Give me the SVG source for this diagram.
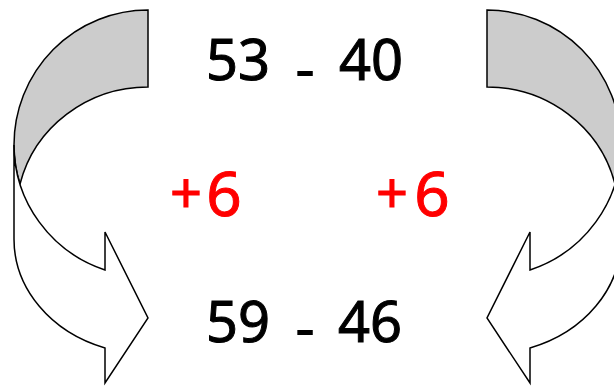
<svg xmlns="http://www.w3.org/2000/svg" width="614" height="386" viewBox="0 0 614 386">
<style>
.back{fill:#cccccc;stroke:#000;stroke-width:1.5;stroke-linejoin:miter}
.front{fill:#ffffff;stroke:#000;stroke-width:1.5;stroke-linejoin:miter}
.num{font-family:"Noto Sans","DejaVu Sans",sans-serif;font-size:56px;fill:#000;stroke:#000;stroke-width:1;text-anchor:middle}
.add{font-family:"Noto Sans","DejaVu Sans",sans-serif;font-size:62px;fill:#ff0000;stroke:#ff0000;stroke-width:1;text-anchor:middle}
.plus{font-size:56px}
.dash{font-size:64px;stroke-width:0}
</style>
<defs>
<g id="curve">
<path class="back" d="M148,10 A134,135 0 0 0 14,145 A134,132 0 0 0 20,184 A132,128 0 0 1 148,87 Z"/>
<path class="front" d="M14,145 A134,132 0 0 0 105,270 L105,232 L148,318 L105,383 L105,348 A134,115 0 0 1 14,239 Z"/>
</g>
</defs>
<g id="connectors">
<g id="arrow-left"><use href="#curve"/></g>
<g id="arrow-right"><use href="#curve" transform="translate(635,0) scale(-1,1)"/></g>
</g>
<g id="top-expr">
<text class="num"><tspan x="238" y="80">53</tspan><tspan class="dash" x="305" y="91">-</tspan><tspan x="371" y="80">40</tspan></text>
</g>
<g id="bottom-expr">
<text class="num"><tspan x="238" y="342">59</tspan><tspan class="dash" x="305" y="350">-</tspan><tspan x="370" y="342">46</tspan></text>
</g>
<g id="left-add">
<text class="add"><tspan class="plus" x="186" y="213">+</tspan><tspan x="224" y="216">6</tspan></text>
</g>
<g id="right-add">
<text class="add"><tspan class="plus" x="392" y="213">+</tspan><tspan x="432" y="216">6</tspan></text>
</g>
</svg>
